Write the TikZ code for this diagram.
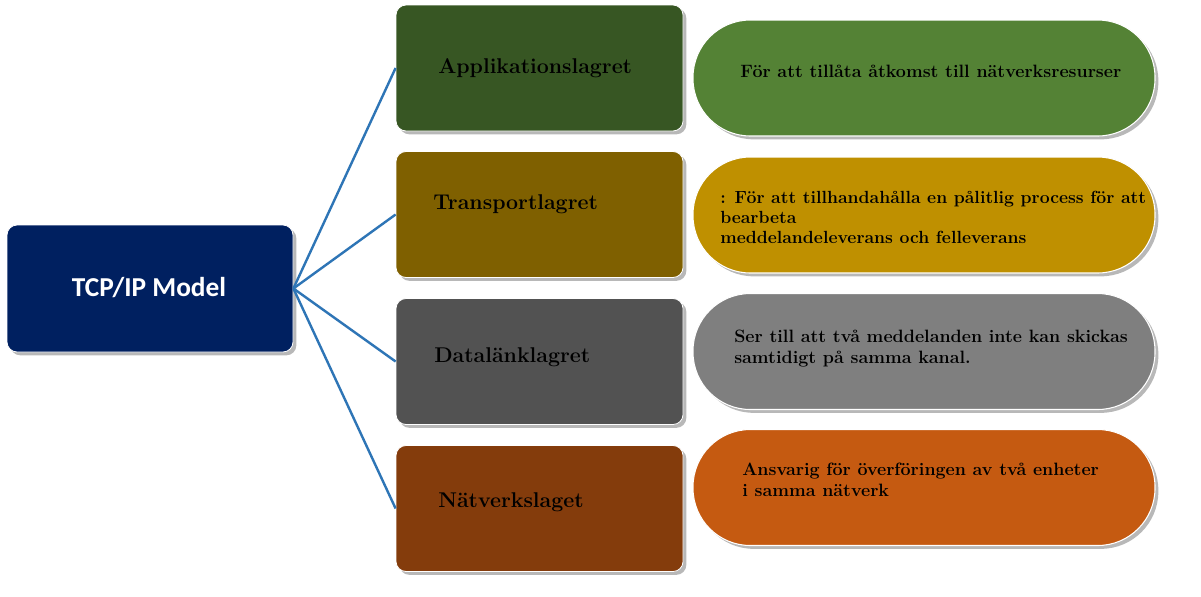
\documentclass[tikz,border=0pt]{standalone}
\usepackage{fontspec}
\newfontfamily\calibri{Carlito}
\usetikzlibrary{shadows}
\definecolor{navy}{HTML}{002060}
\definecolor{layA}{HTML}{375623}
\definecolor{layB}{HTML}{7F6000}
\definecolor{layC}{HTML}{525252}
\definecolor{layD}{HTML}{843C0C}
\definecolor{pilA}{HTML}{548235}
\definecolor{pilB}{HTML}{BF9000}
\definecolor{pilC}{HTML}{7F7F7F}
\definecolor{pilD}{HTML}{C55A11}
\definecolor{link}{HTML}{2E75B6}
\begin{document}
\begin{tikzpicture}[x=0.75pt,y=-0.75pt,
  shade/.style={drop shadow={shadow xshift=2.5pt,shadow yshift=-2.5pt,fill=black,opacity=0.28}},
  rootbox/.style={rectangle,rounded corners=7.5pt,minimum width=214.5pt,minimum height=95.25pt,
    fill=navy,draw=white,line width=0.6pt,shade,inner sep=0pt},
  layerbox/.style={rectangle,rounded corners=7.5pt,minimum width=215.25pt,minimum height=94.5pt,
    draw=white,line width=0.6pt,shade,inner sep=0pt},
  pill/.style={rectangle,rounded corners=43pt,minimum width=346.5pt,minimum height=87pt,
    draw=white,line width=0.8pt,shade,inner sep=0pt},
  layertext/.style={anchor=base west,inner sep=0pt,font=\fontsize{16}{19}\selectfont\bfseries},
  % base anchor of a multi-line node sits on its last line
  piltext/.style={anchor=base west,inner sep=0pt,align=left,font=\fontsize{13.4}{15.75}\selectfont\bfseries},
  conn/.style={draw=link,line width=1.8pt}]
\fill[white] (0,0) rectangle (1201,596);
% root node
\node[rootbox] (root) at (150,288.5) {};
\node[text=white,font=\calibri\fontsize{20.5}{24}\selectfont\bfseries] (roottext) at (149,288) {TCP/IP Model};
% the four layers
\node[layerbox,fill=layA] (l1) at (539.5,68) {};
\node[layerbox,fill=layB] (l2) at (539.5,214.5) {};
\node[layerbox,fill=layC] (l3) at (539.5,361.5) {};
\node[layerbox,fill=layD] (l4) at (539.5,508.5) {};
\node[layertext] (t1) at (438,73) {Applikationslagret};
\node[layertext] (t2) at (433,209.5) {Transportlagret};
\node[layertext] (t3) at (434,362.5) {Datalänklagret};
\node[layertext] (t4) at (438,507) {Nätverkslaget};
% descriptions
\node[pill,fill=pilA] (p1) at (924,78) {};
\node[pill,fill=pilB] (p2) at (924,215) {};
\node[pill,fill=pilC] (p3) at (924,351.5) {};
\node[pill,fill=pilD] (p4) at (924,487.5) {};
\node[piltext] (d1) at (740,77) {För att tillåta åtkomst till nätverksresurser};
\node[piltext,font=\fontsize{13.2}{15}\selectfont\bfseries] (d2) at (720,243) {: För att tillhandahålla en pålitlig process för att\\bearbeta\\meddelandeleverans och felleverans};
\node[piltext] (d3) at (734,363) {Ser till att två meddelanden inte kan skickas\\samtidigt på samma kanal.};
\node[piltext] (d4) at (742,496) {Ansvarig för överföringen av två enheter\\i samma nätverk};
% connectors
\foreach \n in {l1,l2,l3,l4} \draw[conn] (root.east) -- (\n.west);
\end{tikzpicture}
\end{document}
